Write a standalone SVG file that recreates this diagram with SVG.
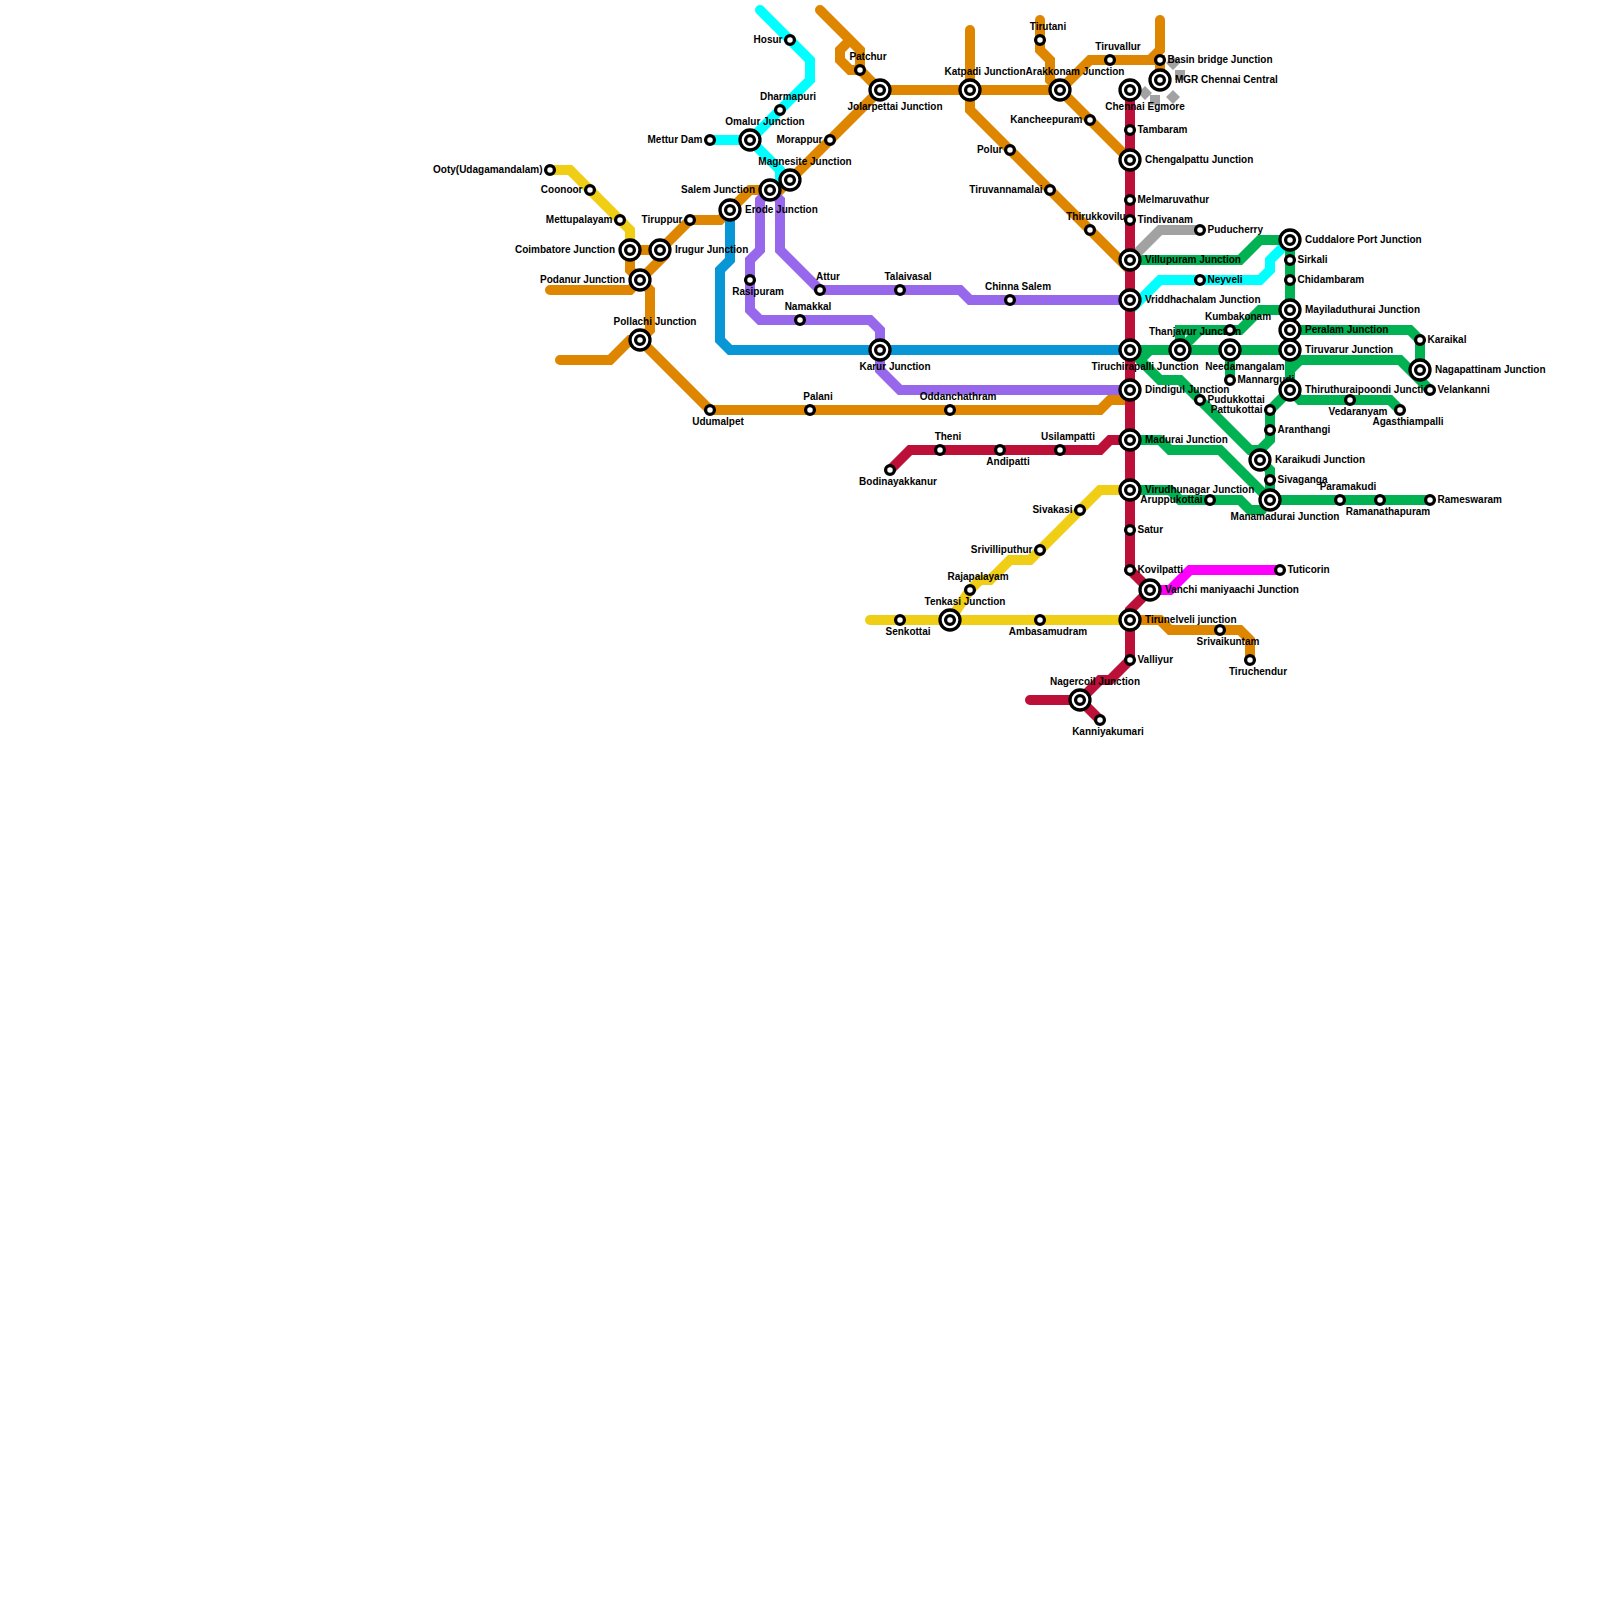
<svg xmlns="http://www.w3.org/2000/svg" xmlns:xlink="http://www.w3.org/1999/xlink" width="1600" height="1600" viewBox="0 0 1600 1600">
<style>
.ln{fill:none;stroke-width:10;stroke-linecap:round;stroke-linejoin:miter}
.o{stroke:#df8600}.c{stroke:#00ffff}.y{stroke:#f0ce15}.p{stroke:#9768ec}.b{stroke:#0896d7}.r{stroke:#bd1038}.g{stroke:#00b251}.m{stroke:#ff00ff}.k{stroke:#a2a2a2}
text{font-family:"Liberation Sans",Arial,sans-serif;font-size:10px;font-weight:700;fill:#000}
.e{text-anchor:end}.t{text-anchor:middle}
.st{fill:#fff;stroke:#000;stroke-width:3.3}
</style>
<defs>
<g id="s"><circle class="st" r="4.4"/></g>
<g id="i"><circle class="st" r="10"/><circle class="st" r="4.4"/></g>
</defs>
<rect width="1600" height="1600" fill="#fff"/>
<g id="connectors">
<path class="ln y" d="M550 170H570L630 230V250"/>
<path class="ln y" d="M870 620H1130"/>
<path class="ln y" d="M950 620L970 590L980 580H990L1010 560H1030L1100 490H1130"/>
<path class="ln c" d="M760 10L810 60V80L750 140H710M750 140L780 170V180"/>
<path class="ln c" d="M1130 310L1160 280H1260L1270 270V260L1290 240"/>
<path class="ln g" d="M1130 260H1240L1260 240H1290V390"/>
<path class="ln g" d="M1180 350V330H1240L1260 310H1290M1180 350L1200 330"/>
<path class="ln g" d="M1130 350H1290M1230 350V380"/>
<path class="ln g" d="M1290 330H1410L1420 340V370"/>
<path class="ln g" d="M1290 370L1300 360H1400L1430 390"/>
<path class="ln g" d="M1290 390L1270 410V440L1260 450V460"/>
<path class="ln g" d="M1140 360L1150 350M1130 350L1160 380H1180L1250 450H1260"/>
<path class="ln g" d="M1260 460L1270 470V500H1430"/>
<path class="ln g" d="M1130 440H1160L1170 450H1220L1270 500"/>
<path class="ln g" d="M1130 490H1170L1180 500H1240L1250 510H1262"/>
<path class="ln g" d="M1290 390L1300 400H1390L1400 410"/>
<path class="ln o" d="M820 10L860 50V70L880 90H1060M860 70H850L840 60V50L850 40"/>
<path class="ln o" d="M880 90L780 190H750L730 210L720 220H690L660 250H630V270L640 280"/>
<path class="ln o" d="M665 255L640 280L630 290H550M640 280L650 290V330L640 340H630L610 360H560"/>
<path class="ln o" d="M640 340L710 410H1100L1110 400H1125L1130 390"/>
<path class="ln o" d="M970 30V110L1130 270"/>
<path class="ln o" d="M1040 20V50L1050 60V80L1060 90L1090 60H1150L1160 50V20M1150 60H1160V80"/>
<path class="ln o" d="M1060 90L1130 160"/>
<path class="ln o" d="M1130 620H1160L1170 630H1240L1250 640V660"/>
<path class="ln b" d="M730 210V260L720 270V340L730 350H1130"/>
<path class="ln p" d="M770 190L760 200V250L750 260V310L760 320H870L880 330V370L900 390H1130"/>
<path class="ln p" d="M770 190L780 200V250L820 290H960L970 300H1130"/>
<path class="ln k" d="M1130 260L1160 230H1200"/>
<path class="ln m" d="M1150 590H1170L1190 570H1280"/>
<path class="ln r" d="M1130 90V570L1150 590L1130 610V660L1110 680H1100L1080 700H1030M1080 700L1100 720"/>
<path class="ln r" d="M890 470L910 450H1100L1110 440H1130"/>
<path fill="#a2a2a2" d="M1173 56l7 7-7 7-7-7zM1175 70h10v10h-10zM1173 90l7 7-7 7-7-7zM1150 95h10v10h-10zM1145 86l7 7-7 7-7-7z"/>
</g>
<g id="nodes">
<g id="n1"><text class="e" x="542.5" y="173">Ooty(Udagamandalam)</text><use href="#s" x="550" y="170"/></g>
<g id="n2"><text class="e" x="582.5" y="193">Coonoor</text><use href="#s" x="590" y="190"/></g>
<g id="n3"><text class="e" x="612.5" y="223">Mettupalayam</text><use href="#s" x="620" y="220"/></g>
<g id="n4"><text class="e" x="682.5" y="223">Tiruppur</text><use href="#s" x="690" y="220"/></g>
<g id="n5"><text class="e" x="702.5" y="143">Mettur Dam</text><use href="#s" x="710" y="140"/></g>
<g id="n6"><text class="e" x="782.5" y="43">Hosur</text><use href="#s" x="790" y="40"/></g>
<g id="n7"><text class="e" x="822.5" y="143">Morappur</text><use href="#s" x="830" y="140"/></g>
<g id="n8"><text class="e" x="1082.5" y="123">Kancheepuram</text><use href="#s" x="1090" y="120"/></g>
<g id="n9"><text class="e" x="1002.5" y="153">Polur</text><use href="#s" x="1010" y="150"/></g>
<g id="n10"><text class="e" x="1042.5" y="193">Tiruvannamalai</text><use href="#s" x="1050" y="190"/></g>
<g id="n11"><text class="e" x="1072.5" y="513">Sivakasi</text><use href="#s" x="1080" y="510"/></g>
<g id="n12"><text class="e" x="1032.5" y="553">Srivilliputhur</text><use href="#s" x="1040" y="550"/></g>
<g id="n13"><text class="e" x="1202.5" y="503">Aruppukottai</text><use href="#s" x="1210" y="500"/></g>
<g id="n14"><text class="e" x="1262.5" y="413">Pattukottai</text><use href="#s" x="1270" y="410"/></g>
<g id="n15"><text class="t" x="1096" y="220">Thirukkovilu</text><use href="#s" x="1090" y="230"/></g>
<g id="n16"><text x="1137.5" y="133">Tambaram</text><use href="#s" x="1130" y="130"/></g>
<g id="n17"><text x="1137.5" y="203">Melmaruvathur</text><use href="#s" x="1130" y="200"/></g>
<g id="n18"><text x="1137.5" y="223">Tindivanam</text><use href="#s" x="1130" y="220"/></g>
<g id="n19"><text x="1207.5" y="233">Puducherry</text><use href="#s" x="1200" y="230"/></g>
<g id="n20"><text x="1207.5" y="283">Neyveli</text><use href="#s" x="1200" y="280"/></g>
<g id="n21"><text x="1137.5" y="533">Satur</text><use href="#s" x="1130" y="530"/></g>
<g id="n22"><text x="1137.5" y="573">Kovilpatti</text><use href="#s" x="1130" y="570"/></g>
<g id="n23"><text x="1137.5" y="663">Valliyur</text><use href="#s" x="1130" y="660"/></g>
<g id="n24"><text x="1287.5" y="573">Tuticorin</text><use href="#s" x="1280" y="570"/></g>
<g id="n25"><text x="1167.5" y="63">Basin bridge Junction</text><use href="#s" x="1160" y="60"/></g>
<g id="n26"><text x="1297.5" y="263">Sirkali</text><use href="#s" x="1290" y="260"/></g>
<g id="n27"><text x="1297.5" y="283">Chidambaram</text><use href="#s" x="1290" y="280"/></g>
<g id="n28"><text x="1427.5" y="343">Karaikal</text><use href="#s" x="1420" y="340"/></g>
<g id="n30"><text x="1437.5" y="503">Rameswaram</text><use href="#s" x="1430" y="500"/></g>
<g id="n31"><text x="1207.5" y="403">Pudukkottai</text><use href="#s" x="1200" y="400"/></g>
<g id="n32"><text x="1277.5" y="433">Aranthangi</text><use href="#s" x="1270" y="430"/></g>
<g id="n33"><text x="1277.5" y="483">Sivaganga</text><use href="#s" x="1270" y="480"/></g>
<g id="n34"><text x="1237.5" y="383">Mannargudi</text><use href="#s" x="1230" y="380"/></g>
<g id="n35"><text class="t" x="1048" y="30">Tirutani</text><use href="#s" x="1040" y="40"/></g>
<g id="n36"><text class="t" x="1118" y="50">Tiruvallur</text><use href="#s" x="1110" y="60"/></g>
<g id="n37"><text class="t" x="868" y="60">Patchur</text><use href="#s" x="860" y="70"/></g>
<g id="n38"><text class="t" x="788" y="100">Dharmapuri</text><use href="#s" x="780" y="110"/></g>
<g id="n39"><text class="t" x="828" y="280">Attur</text><use href="#s" x="820" y="290"/></g>
<g id="n40"><text class="t" x="908" y="280">Talaivasal</text><use href="#s" x="900" y="290"/></g>
<g id="n41"><text class="t" x="1018" y="290">Chinna Salem</text><use href="#s" x="1010" y="300"/></g>
<g id="n42"><text class="t" x="808" y="310">Namakkal</text><use href="#s" x="800" y="320"/></g>
<g id="n43"><text class="t" x="818" y="400">Palani</text><use href="#s" x="810" y="410"/></g>
<g id="n44"><text class="t" x="958" y="400">Oddanchathram</text><use href="#s" x="950" y="410"/></g>
<g id="n45"><text class="t" x="948" y="440">Theni</text><use href="#s" x="940" y="450"/></g>
<g id="n46"><text class="t" x="1068" y="440">Usilampatti</text><use href="#s" x="1060" y="450"/></g>
<g id="n47"><text class="t" x="978" y="580">Rajapalayam</text><use href="#s" x="970" y="590"/></g>
<g id="n48"><text class="t" x="1195" y="335">Thanjavur Junction</text><use href="#i" x="1180" y="350"/></g>
<g id="n49"><text class="t" x="1238" y="320">Kumbakonam</text><use href="#s" x="1230" y="330"/></g>
<g id="n50"><text class="t" x="1348" y="490">Paramakudi</text><use href="#s" x="1340" y="500"/></g>
<g id="n51"><text class="t" x="718" y="425">Udumalpet</text><use href="#s" x="710" y="410"/></g>
<g id="n52"><text class="t" x="758" y="295">Rasipuram</text><use href="#s" x="750" y="280"/></g>
<g id="n53"><text class="t" x="1008" y="465">Andipatti</text><use href="#s" x="1000" y="450"/></g>
<g id="n54"><text class="t" x="898" y="485">Bodinayakkanur</text><use href="#s" x="890" y="470"/></g>
<g id="n55"><text class="t" x="908" y="635">Senkottai</text><use href="#s" x="900" y="620"/></g>
<g id="n56"><text class="t" x="1048" y="635">Ambasamudram</text><use href="#s" x="1040" y="620"/></g>
<g id="n57"><text class="t" x="1228" y="645">Srivaikuntam</text><use href="#s" x="1220" y="630"/></g>
<g id="n58"><text class="t" x="1258" y="675">Tiruchendur</text><use href="#s" x="1250" y="660"/></g>
<g id="n59"><text class="t" x="1108" y="735">Kanniyakumari</text><use href="#s" x="1100" y="720"/></g>
<g id="n60"><text class="t" x="1358" y="415">Vedaranyam</text><use href="#s" x="1350" y="400"/></g>
<g id="n61"><text class="t" x="1408" y="425">Agasthiampalli</text><use href="#s" x="1400" y="410"/></g>
<g id="n62"><text class="t" x="1388" y="515">Ramanathapuram</text><use href="#s" x="1380" y="500"/></g>
<g id="n70"><text x="1145" y="163">Chengalpattu Junction</text><use href="#i" x="1130" y="160"/></g>
<g id="n71"><text x="1145" y="263">Villupuram Junction</text><use href="#i" x="1130" y="260"/></g>
<g id="n72"><text x="1145" y="303">Vriddhachalam Junction</text><use href="#i" x="1130" y="300"/></g>
<g id="n73"><text x="1145" y="393">Dindigul Junction</text><use href="#i" x="1130" y="390"/></g>
<g id="n74"><text x="1145" y="443">Madurai Junction</text><use href="#i" x="1130" y="440"/></g>
<g id="n75"><text x="1145" y="493">Virudhunagar Junction</text><use href="#i" x="1130" y="490"/></g>
<g id="n76"><text x="1165" y="593">Vanchi maniyaachi Junction</text><use href="#i" x="1150" y="590"/></g>
<g id="n77"><text x="1145" y="623">Tirunelveli junction</text><use href="#i" x="1130" y="620"/></g>
<g id="n78"><text x="1305" y="243">Cuddalore Port Junction</text><use href="#i" x="1290" y="240"/></g>
<g id="n79"><text x="1305" y="313">Mayiladuthurai Junction</text><use href="#i" x="1290" y="310"/></g>
<g id="n80"><text x="1305" y="333">Peralam Junction</text><use href="#i" x="1290" y="330"/></g>
<g id="n81"><text x="1305" y="353">Tiruvarur Junction</text><use href="#i" x="1290" y="350"/></g>
<g id="n82"><text x="1305" y="393">Thiruthuraipoondi Junction</text><use href="#i" x="1290" y="390"/></g>
<g id="n29"><text x="1437.5" y="393">Velankanni</text><use href="#s" x="1430" y="390"/></g>
<g id="n83"><text x="1435" y="373">Nagapattinam Junction</text><use href="#i" x="1420" y="370"/></g>
<g id="n84"><text x="1275" y="463">Karaikudi Junction</text><use href="#i" x="1260" y="460"/></g>
<g id="n85"><text x="1175" y="83">MGR Chennai Central</text><use href="#i" x="1160" y="80"/></g>
<g id="n86"><text x="675" y="253">Irugur Junction</text><use href="#i" x="660" y="250"/></g>
<g id="n87"><text x="745" y="213">Erode Junction</text><use href="#i" x="730" y="210"/></g>
<g id="n88"><text class="e" x="615" y="253">Coimbatore Junction</text><use href="#i" x="630" y="250"/></g>
<g id="n89"><text class="e" x="625" y="283">Podanur Junction</text><use href="#i" x="640" y="280"/></g>
<g id="n90"><text class="e" x="755" y="193">Salem Junction</text><use href="#i" x="770" y="190"/></g>
<g id="n91"><text class="t" x="985" y="75">Katpadi Junction</text><use href="#i" x="970" y="90"/></g>
<g id="n92"><text class="t" x="1075" y="75">Arakkonam Junction</text><use href="#i" x="1060" y="90"/></g>
<g id="n93"><text class="t" x="765" y="125">Omalur Junction</text><use href="#i" x="750" y="140"/></g>
<g id="n94"><text class="t" x="805" y="165">Magnesite Junction</text><use href="#i" x="790" y="180"/></g>
<g id="n95"><text class="t" x="655" y="325">Pollachi Junction</text><use href="#i" x="640" y="340"/></g>
<g id="n96"><text class="t" x="965" y="605">Tenkasi Junction</text><use href="#i" x="950" y="620"/></g>
<g id="n97"><text class="t" x="1095" y="685">Nagercoil Junction</text><use href="#i" x="1080" y="700"/></g>
<g id="n99"><text class="t" x="895" y="110">Jolarpettai Junction</text><use href="#i" x="880" y="90"/></g>
<g id="n100"><text class="t" x="895" y="370">Karur Junction</text><use href="#i" x="880" y="350"/></g>
<g id="n101"><text class="t" x="1145" y="110">Chennai Egmore</text><use href="#i" x="1130" y="90"/></g>
<g id="n102"><text class="t" x="1145" y="370">Tiruchirapalli Junction</text><use href="#i" x="1130" y="350"/></g>
<g id="n103"><text class="t" x="1285" y="520">Manamadurai Junction</text><use href="#i" x="1270" y="500"/></g>
<g id="n104"><text class="t" x="1245" y="370">Needamangalam</text><use href="#i" x="1230" y="350"/></g>
</g>
</svg>
